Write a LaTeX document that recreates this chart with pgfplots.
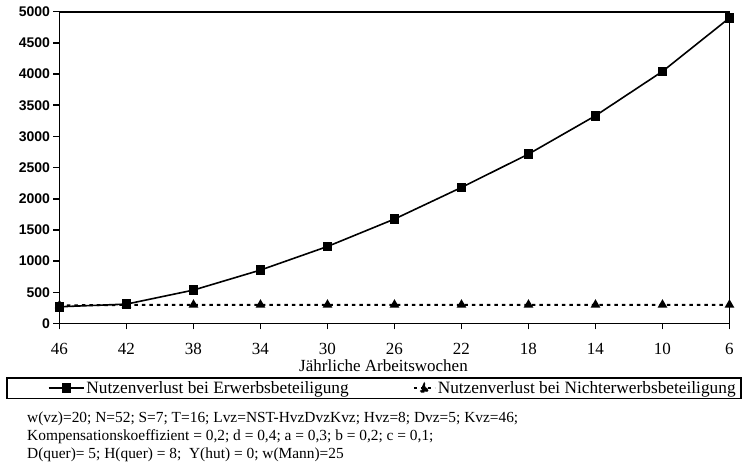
\documentclass[border=0pt]{standalone}
\usepackage{fontspec}
\setmainfont{Liberation Serif}
\newfontfamily\ysans{Liberation Sans}
\usepackage{pgfplots}
\pgfplotsset{compat=1.18}
\begin{document}
\begin{tikzpicture}
\path[use as bounding box] (0,0) rectangle (745pt,468pt);
\begin{axis}[
  at={(59.5pt,144.5pt)}, anchor=south west,
  scale only axis, width=670pt, height=311.8pt,
  xmin=6, xmax=46, x dir=reverse,
  ymin=0, ymax=5000,
  xtick={46,42,38,34,30,26,22,18,14,10,6},
  ytick={0,500,...,5000},
  axis line style={line width=1.8pt},
  tick style={line width=1.5pt, black},
  tick align=outside, major tick length=6pt,
  xtick pos=bottom, ytick pos=left,
  /pgf/number format/assume math mode=true,
  /pgf/number format/set thousands separator={},
  yticklabel style={font=\ysans\bfseries\fontsize{14}{14}\selectfont},
  xticklabel style={font=\fontsize{17}{17}\selectfont, yshift=-10pt},
  xlabel={Jährliche Arbeitswochen},
  xlabel style={font=\fontsize{17}{17}\selectfont, yshift=2pt, xshift=-11pt},
  legend columns=2,
  legend style={at={(axis description cs:-0.0799,-0.1716)}, anchor=north west,
    draw=black, line width=1.8pt, font=\fontsize{17.3}{17.3}\selectfont,
    /tikz/every even column/.append style={column sep=62pt},
    inner xsep=3pt, inner ysep=1.5pt},
  legend cell align=left,
  clip=false,
]
\addplot[black, line width=1.6pt, mark=square*, mark size=4pt,
  legend image code/.code={\path (-38pt,0pt);
    \draw[line width=1.6pt] (0pt,0pt) -- (35pt,0pt);
    \fill[black] (14pt,-4pt) rectangle (22pt,4pt);}]
coordinates {
(46,268) (42,311) (38,536) (34,857) (30,1235) (26,1675)
(22,2182) (18,2717) (14,3332) (10,4043) (6,4900)
};
\addlegendentry{Nutzenverlust bei Erwerbsbeteiligung}
\addplot[black, line width=2pt, dash pattern=on 3.5pt off 4pt, mark=triangle*, mark size=3.6pt,
  mark options={solid},
  legend image code/.code={\draw[line width=2pt, dash pattern=on 3pt off 4pt] (0pt,0pt) -- (21pt,0pt);
    \fill[black] (7pt,-3.5pt) -- (14pt,-3.5pt) -- (10.5pt,4pt) -- cycle;}]
coordinates {
(46,290) (42,298) (38,300) (34,300) (30,300) (26,300)
(22,300) (18,300) (14,300) (10,300) (6,300)
};
\addlegendentry{Nutzenverlust bei Nichterwerbsbeteiligung}
\end{axis}
\node[anchor=base west, font=\fontsize{15.4}{15}\selectfont, inner sep=0pt] at (27pt,45pt) {w(vz)=20; N=52; S=7; T=16; Lvz=NST-HvzDvzKvz; Hvz=8; Dvz=5; Kvz=46;};
\node[anchor=base west, font=\fontsize{15.4}{15}\selectfont, inner sep=0pt] at (27pt,27pt) {Kompensationskoeffizient = 0,2; d = 0,4; a = 0,3; b = 0,2; c = 0,1;};
\node[anchor=base west, font=\fontsize{15.4}{15}\selectfont, inner sep=0pt] at (27pt,9pt) {D(quer)= 5; H(quer) = 8;\ \ Y(hut) = 0; w(Mann)=25};
\end{tikzpicture}
\end{document}
